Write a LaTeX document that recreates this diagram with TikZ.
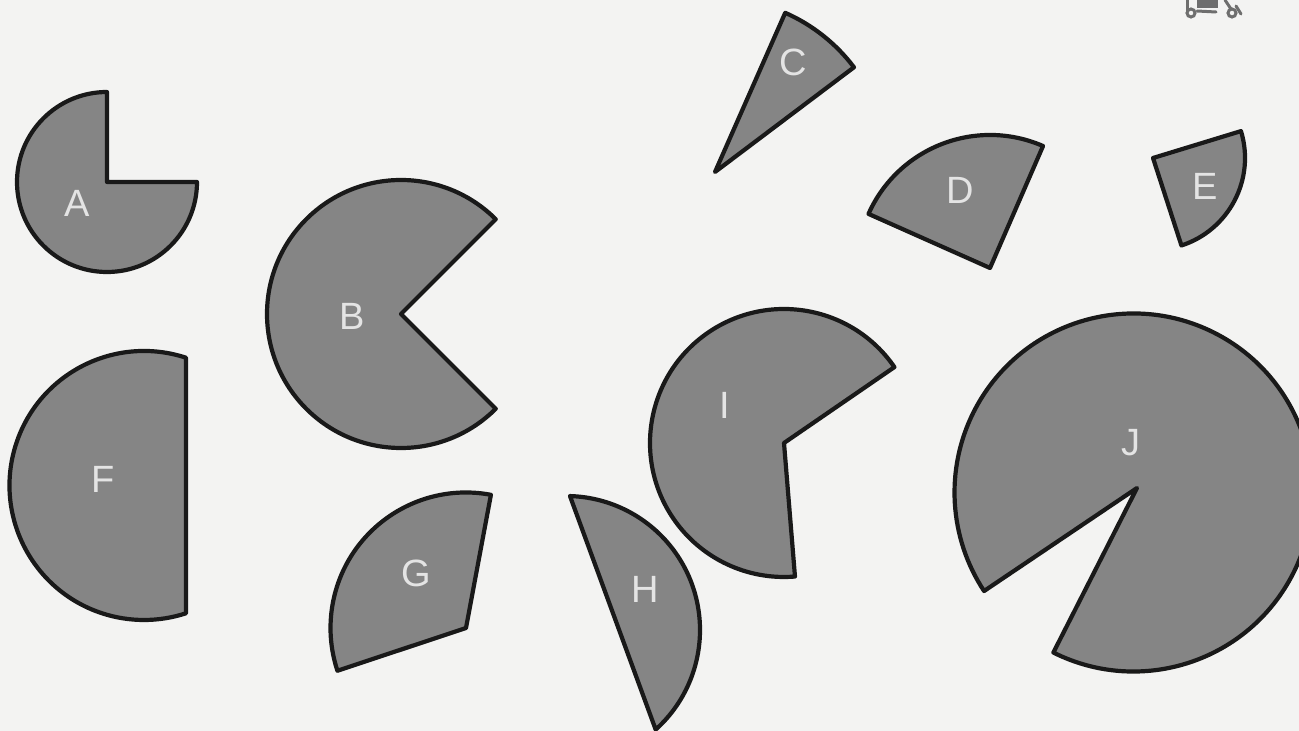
\documentclass[tikz,border=0pt]{standalone}
\usepackage{fontspec}
\setmainfont{Liberation Sans}
\definecolor{paper}{HTML}{F3F3F2}
\definecolor{sectorgray}{HTML}{858585}
\definecolor{lettergray}{HTML}{E4E4E4}
\definecolor{smudge}{HTML}{6E6E6E}
\tikzset{
  piece/.style={draw=black!90,fill=sectorgray,line width=4.2pt,line join=round},
  letter/.style={text=lettergray,font=\fontsize{38}{38}\selectfont,inner sep=0pt,anchor=center},
  smudgeline/.style={draw=smudge,line width=3pt,line cap=round}
}
% #1 start point, #2 centre x, #3 centre y, #4 radius, #5 start angle, #6 end angle
\newcommand{\sectorpiece}[6]{%
  \draw[piece] (#1) -- ({#2+#4*cos(#5)},{731-#3+#4*sin(#5)}) arc[start angle=#5,end angle=#6,radius=#4] -- cycle;}
\newcommand{\segmentpiece}[5]{%
  \draw[piece] ({#1+#3*cos(#4)},{731-#2+#3*sin(#4)}) arc[start angle=#4,end angle=#5,radius=#3] -- cycle;}
\begin{document}
\begin{tikzpicture}[x=1pt,y=1pt]
\useasboundingbox (0,0) rectangle (1299,731);
\fill[paper] (0,0) rectangle (1299,731);
\begin{scope}
\clip (0,0) rectangle (1299,731);
% A
\sectorpiece{107,549}{107}{182}{90}{90}{360}
% B
\sectorpiece{401,417}{401}{314}{134}{45}{315}
% C
\sectorpiece{715,559}{715}{172}{174}{37}{66.2}
% D
\sectorpiece{990,463}{990}{268}{133}{66.5}{156}
% E
\sectorpiece{1153,573}{1153}{158}{92}{-72}{17}
% F
\segmentpiece{144}{485.5}{134.5}{71.8}{288.2}
% G
\sectorpiece{466,103}{466}{628}{135.5}{79.4}{198.4}
% H
\segmentpiece{566}{630}{134}{-48}{88.3}
% I
\sectorpiece{784,288}{784}{443}{134}{34.5}{274.7}
% J
\sectorpiece{1137,243}{1133.5}{492.5}{179}{-116.6}{213.4}
\end{scope}
% smudge, top right corner
\begin{scope}
\clip (0,0) rectangle (1299,731);
\draw[smudgeline] (1187,731) -- (1187,720);
\draw[smudgeline] (1191,718) circle[radius=4];
\fill[smudge] (1197,723) rectangle (1218,731);
\draw[smudgeline] (1197,720) -- (1216,719);
\draw[smudgeline] (1225,731) -- (1231,722);
\draw[smudgeline] (1232,718) circle[radius=4];
\draw[smudgeline] (1236,725) -- (1241,717);
\end{scope}
% letters
\node[letter] (la) at (77,528) {A};
\node[letter] (lb) at (352,415) {B};
\node[letter] (lc) at (793,669) {C};
\node[letter] (ld) at (960,541) {D};
\node[letter] (le) at (1205,545) {E};
\node[letter] (lf) at (103,252) {F};
\node[letter] (lg) at (416,158) {G};
\node[letter] (lh) at (645,142) {H};
\node[letter] (li) at (725,326) {I};
\node[letter] (lj) at (1131,288) {J};
\end{tikzpicture}
\end{document}
